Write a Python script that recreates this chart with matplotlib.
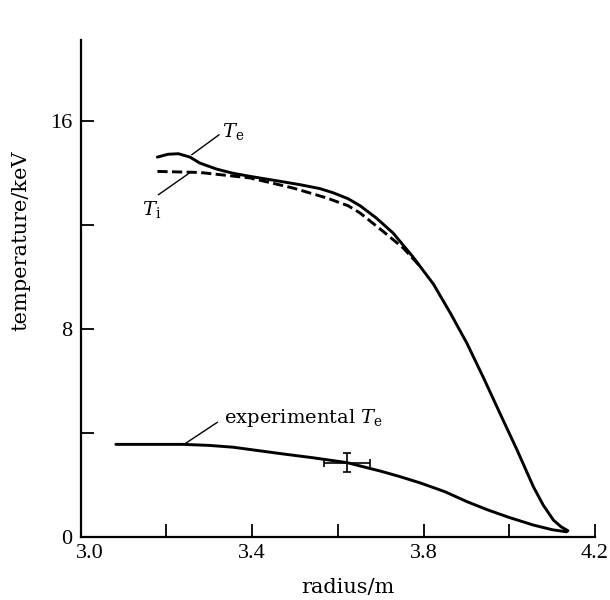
import matplotlib
matplotlib.use("Agg")
import matplotlib.pyplot as plt
import matplotlib.transforms as mtransforms

plt.rcParams["font.family"] = "DejaVu Serif"
plt.rcParams["mathtext.fontset"] = "dejavuserif"

# theoretical electron temperature
te_r = [3.179, 3.204, 3.228, 3.255, 3.278, 3.317, 3.355, 3.395, 3.465, 3.512,
        3.558, 3.589, 3.624, 3.652, 3.689, 3.729, 3.775, 3.823, 3.862, 3.901,
        3.939, 3.978, 4.018, 4.056, 4.079, 4.103, 4.121, 4.137]
te_t = [14.60, 14.71, 14.73, 14.60, 14.37, 14.14, 13.98, 13.86, 13.67, 13.54,
        13.39, 13.23, 13.00, 12.73, 12.27, 11.68, 10.77, 9.72, 8.62, 7.45,
        6.15, 4.76, 3.35, 1.94, 1.23, 0.65, 0.39, 0.24]

# theoretical ion temperature
ti_r = [3.179, 3.278, 3.395, 3.496, 3.574, 3.624, 3.652, 3.706, 3.753, 3.792]
ti_t = [14.05, 14.01, 13.80, 13.41, 13.03, 12.73, 12.45, 11.74, 11.10, 10.40]

# experimental electron temperature
ex_r = [3.082, 3.16, 3.239, 3.30, 3.356, 3.41, 3.473, 3.54, 3.621, 3.70,
        3.745, 3.792, 3.85, 3.901, 3.95, 4.00, 4.056, 4.10, 4.134]
ex_t = [3.56, 3.56, 3.56, 3.52, 3.45, 3.33, 3.19, 3.05, 2.86, 2.53,
        2.32, 2.08, 1.74, 1.36, 1.04, 0.75, 0.46, 0.28, 0.20]

# single error bar on experimental profile
err_r, err_t = 3.621, 2.86
err_dr, err_dt = 0.053, 0.38

x_ticks = [3.0, 3.2, 3.4, 3.6, 3.8, 4.0, 4.2]
x_labels = ["3.0", "", "3.4", "", "3.8", "", "4.2"]
y_ticks = [0, 4, 8, 12, 16]
y_labels = ["0", "", "8", "", "16"]

fig = plt.figure(figsize=(6.1, 6.0), dpi=100)
ax = fig.add_axes([0.1323, 0.105, 0.8431, 0.8283])

ax.plot(te_r, te_t, color="black", lw=2.1, solid_capstyle="round",
        solid_joinstyle="round")
ax.plot(ti_r, ti_t, color="black", lw=2.1, ls=(0, (3.5, 1.5)))
ax.plot(ex_r, ex_t, color="black", lw=2.1, solid_capstyle="round",
        solid_joinstyle="round")
ax.errorbar([err_r], [err_t], xerr=[err_dr], yerr=[err_dt], fmt="none",
            ecolor="black", elinewidth=1.2, capsize=3, capthick=1.2)

# labels with leader lines
line_kw = dict(arrowstyle="-", color="black", lw=1.0, shrinkA=0, shrinkB=0)
ax.annotate("", xy=(3.259, 14.69), xytext=(3.323, 15.46), arrowprops=line_kw)
ax.text(3.329, 15.38, r"$\mathit{T}_{\mathrm{e}}$", fontsize=14,
        ha="left", va="baseline")
ax.annotate("", xy=(3.259, 14.05), xytext=(3.181, 13.15), arrowprops=line_kw)
ax.text(3.143, 12.38, r"$\mathit{T}_{\mathrm{i}}$", fontsize=14,
        ha="left", va="baseline")
ax.annotate("", xy=(3.242, 3.57), xytext=(3.319, 4.41), arrowprops=line_kw)
ax.text(3.335, 4.38, r"experimental $\mathit{T}_{\mathrm{e}}$", fontsize=14,
        ha="left", va="baseline")

ax.set_xlim(3.0, 4.2)
ax.set_ylim(0, 19.1)
ax.set_xticks(x_ticks)
ax.set_xticklabels(x_labels)
ax.set_yticks(y_ticks)
ax.set_yticklabels(y_labels)
ax.tick_params(direction="in", length=9.5, width=1.3, labelsize=16)
ax.tick_params(axis="x", pad=5)
ax.tick_params(axis="y", pad=6)
for lbl in ax.get_xticklabels() + ax.get_yticklabels():
    lbl.set_fontfamily("Liberation Serif")

# nudge the first x label right so it clears the "0"
shift = mtransforms.ScaledTranslation(0.09, 0, fig.dpi_scale_trans)
first = ax.get_xticklabels()[0]
first.set_transform(first.get_transform() + shift)

for side in ["top", "right"]:
    ax.spines[side].set_visible(False)
for side in ["left", "bottom"]:
    ax.spines[side].set_linewidth(1.6)

ax.set_xlabel("radius/m", fontsize=15)
ax.set_ylabel("temperature/keV", fontsize=15)
ax.xaxis.set_label_coords(0.52, -0.082)
ax.yaxis.set_label_coords(-0.097, 0.596)

fig.savefig("out.png", dpi=100)
